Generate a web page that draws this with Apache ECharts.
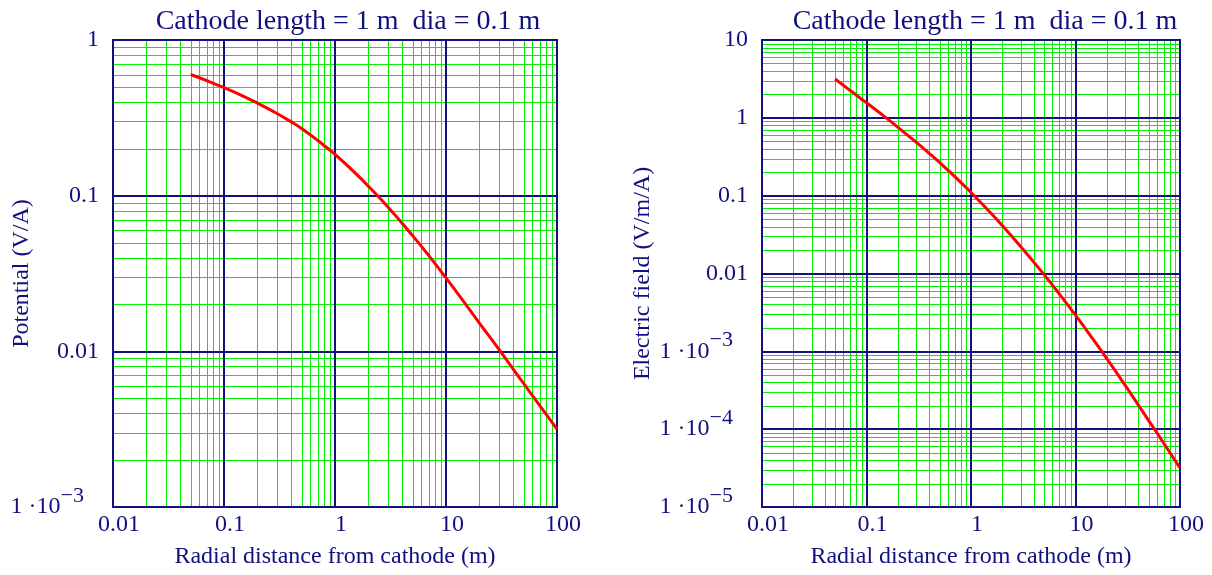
<!DOCTYPE html>
<html>
<head>
<meta charset="utf-8">
<title>Cathode potential and field</title>
<script src="https://cdn.jsdelivr.net/npm/echarts@6/dist/echarts.min.js"></script>
<style>
	html, body { margin: 0; padding: 0; background: #fff; }
	#container { width: 1212px; height: 575px; }
</style>
</head>
<body>
<div id="container"></div>
<script>
// 数据：读图估计
var potR = [0.05, 0.07, 0.1, 0.15, 0.2, 0.3, 0.4, 0.5, 0.7, 1, 1.5, 2, 3, 5, 7, 10, 15, 20, 30, 50, 70, 100];
var potV = [0.600, 0.548, 0.494, 0.435, 0.393, 0.337, 0.299, 0.270, 0.226, 0.184, 0.141, 0.115, 0.0846, 0.0554, 0.0412, 0.0296, 0.0201, 0.0152, 0.0103, 0.00622, 0.00448, 0.00316];
var fieldR = [0.05, 0.07, 0.1, 0.15, 0.2, 0.3, 0.4, 0.5, 0.7, 1, 1.5, 2, 3, 5, 7, 10, 15, 20, 30, 50, 70, 100];
var fieldE = [3.15, 2.24, 1.56, 1.03, 0.755, 0.484, 0.348, 0.267, 0.176, 0.110, 0.0626, 0.0411, 0.0221, 0.00968, 0.00547, 0.00291, 0.00138, 0.000802, 0.000363, 0.000130, 0.0000658, 0.0000317];

var titleText = 'Cathode length = 1 m  dia = 0.1 m';
var xName = 'Radial distance from cathode (m)';
var xLabels = {'-2': '0.01', '-1': '0.1', '0': '1', '1': '10', '2': '100'};
var potLabels = {'0': '1', '-1': '0.1', '-2': '0.01', '-3': '1 \u00b710{sup|\u22123}'};
var fieldLabels = {'1': '10', '0': '1', '-1': '0.1', '-2': '0.01', '-3': '1 \u00b710{sup|\u22123}', '-4': '1 \u00b710{sup|\u22124}', '-5': '1 \u00b710{sup|\u22125}'};

var navy = '#10107e';
var green = '#00f000';
var font = 'Liberation Serif';

var dom = document.getElementById('container');
var myChart = echarts.init(dom, null, {renderer: 'canvas'});

// 2..9 的细网格线：[x, y, 方向] 0=竖线 1=横线
function minorGrid(xMin, xMax, yMin, yMax) {
	var out = [];
	var e, k;
	for (e = Math.round(Math.log10(xMin)); e < Math.round(Math.log10(xMax)); e++) {
		for (k = 2; k <= 9; k++) {
			out.push([k * Math.pow(10, e), yMin, 0]);
		}
	}
	for (e = Math.round(Math.log10(yMin)); e < Math.round(Math.log10(yMax)); e++) {
		for (k = 2; k <= 9; k++) {
			out.push([xMin, k * Math.pow(10, e), 1]);
		}
	}
	return out;
}

function renderGridLine(params, api) {
	var p = api.coord([api.value(0), api.value(1)]);
	var cs = params.coordSys;
	var shape;
	if (api.value(2) === 0) {
		var x = Math.round(p[0]) + 0.5;
		shape = {x1: x, y1: cs.y, x2: x, y2: cs.y + cs.height};
	} else {
		var y = Math.round(p[1]) + 0.5;
		shape = {x1: cs.x, y1: y, x2: cs.x + cs.width, y2: y};
	}
	return {
		type: 'line',
		silent: true,
		shape: shape,
		style: {stroke: green, lineWidth: 1}
	};
}

function labelFmt(table) {
	return function(v) {
		var e = Math.round(Math.log10(v));
		return table[String(e)] || '';
	};
}

function xAxisCfg(gridIndex) {
	return {
		gridIndex: gridIndex,
		type: 'log',
		logBase: 10,
		min: 0.01,
		max: 100,
		z: 3,
		name: xName,
		nameLocation: 'middle',
		nameGap: 38,
		nameMoveOverlap: false,
		nameTextStyle: {fontFamily: font, fontSize: 24, color: navy},
		axisLine: {lineStyle: {color: navy, width: 2}},
		axisTick: {show: false},
		minorTick: {show: false},
		minorSplitLine: {show: false},
		splitLine: {show: true, lineStyle: {color: navy, width: 2}},
		axisLabel: {
			fontFamily: font, fontSize: 24, color: navy, margin: 6,
			padding: [0, 0, 0, 12],
			showMinLabel: true, showMaxLabel: true,
			formatter: labelFmt(xLabels)
		}
	};
}

function yAxisCfg(gridIndex, min, max, name, gap, table) {
	return {
		gridIndex: gridIndex,
		type: 'log',
		logBase: 10,
		min: min,
		max: max,
		z: 3,
		name: name,
		nameLocation: 'middle',
		nameGap: gap,
		nameMoveOverlap: false,
		nameTextStyle: {fontFamily: font, fontSize: 24, color: navy},
		axisLine: {lineStyle: {color: navy, width: 2}},
		axisTick: {show: false},
		minorTick: {show: false},
		minorSplitLine: {show: false},
		splitLine: {show: true, lineStyle: {color: navy, width: 2}},
		axisLabel: {
			fontFamily: font, fontSize: 24, color: navy, margin: 14,
			showMinLabel: true, showMaxLabel: true,
			formatter: labelFmt(table),
			rich: {
				sup: {fontFamily: font, fontSize: 22, color: navy, padding: [0, 15, 22, 0]}
			}
		}
	};
}

function gridSeries(idx, yMin, yMax) {
	return {
		type: 'custom',
		coordinateSystem: 'cartesian2d',
		xAxisIndex: idx,
		yAxisIndex: idx,
		z: 1,
		silent: true,
		clip: false,
		encode: {x: 0, y: 1},
		renderItem: renderGridLine,
		data: minorGrid(0.01, 100, yMin, yMax)
	};
}

var option = {
	animation: false,
	backgroundColor: '#ffffff',
	title: [{
		text: titleText, left: 343, top: 3, textAlign: 'center',
		textStyle: {fontFamily: font, fontSize: 28, fontWeight: 'normal', color: navy}
	}, {
		text: titleText, left: 980, top: 3, textAlign: 'center',
		textStyle: {fontFamily: font, fontSize: 28, fontWeight: 'normal', color: navy}
	}],
	grid: [{
		left: 113, top: 40, width: 444, height: 467,
		containLabel: false, outerBoundsMode: 'none',
		show: true, borderColor: navy, borderWidth: 2, backgroundColor: 'transparent'
	}, {
		left: 762, top: 40, width: 418, height: 467,
		containLabel: false, outerBoundsMode: 'none',
		show: true, borderColor: navy, borderWidth: 2, backgroundColor: 'transparent'
	}],
	xAxis: [xAxisCfg(0), xAxisCfg(1)],
	yAxis: [
		yAxisCfg(0, 0.001, 1, 'Potential (V/A)', 79, potLabels),
		yAxisCfg(1, 0.00001, 10, 'Electric field (V/m/A)', 107, fieldLabels)
	],
	series: [
		gridSeries(0, 0.001, 1),
		gridSeries(1, 0.00001, 10),
		{
			name: 'Potential',
			type: 'line',
			xAxisIndex: 0,
			yAxisIndex: 0,
			z: 5,
			smooth: true,
			symbol: 'none',
			lineStyle: {color: '#ff0000', width: 3},
			data: potR.map(function(r, i) { return [r, potV[i]]; })
		},
		{
			name: 'Electric field',
			type: 'line',
			xAxisIndex: 1,
			yAxisIndex: 1,
			z: 5,
			smooth: true,
			symbol: 'none',
			lineStyle: {color: '#ff0000', width: 3},
			data: fieldR.map(function(r, i) { return [r, fieldE[i]]; })
		}
	]
};
myChart.setOption(option);
</script>
</body>
</html>
